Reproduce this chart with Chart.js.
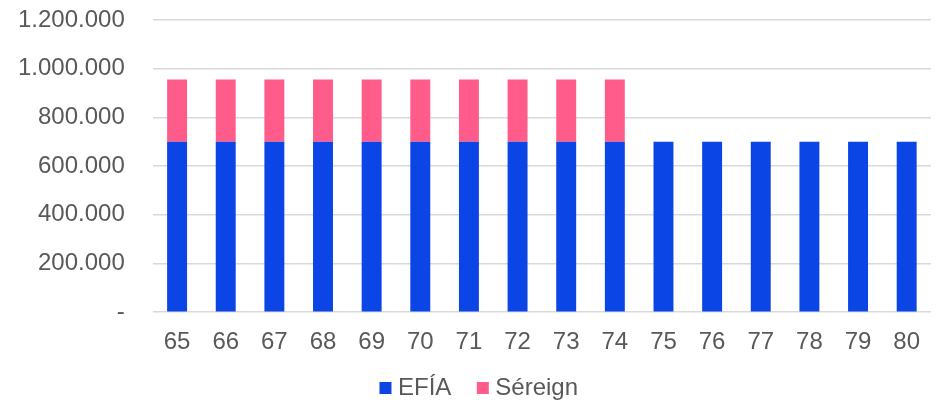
<!DOCTYPE html>
<html>
<head>
<meta charset="utf-8">
<script src="https://cdn.jsdelivr.net/npm/chart.js@4/dist/chart.umd.min.js"></script>
<style>
  html, body { margin: 0; padding: 0; background: #fff; }
  #wrap { width: 937px; height: 406px; }
</style>
</head>
<body>
<div id="wrap"><canvas id="chart" width="937" height="406"></canvas></div>
<script>
// --- Datos ---
const ages = ['65','66','67','68','69','70','71','72','73','74','75','76','77','78','79','80'];
const efia = [700000,700000,700000,700000,700000,700000,700000,700000,700000,700000,700000,700000,700000,700000,700000,700000];
const sereign = [256000,256000,256000,256000,256000,256000,256000,256000,256000,256000,0,0,0,0,0,0];
const yTicks = [0,200000,400000,600000,800000,1000000,1200000];

// formato con puntos de miles, cero como guion
function fmt(v) {
    if (v === 0) return '-';
    return String(v).replace(/\B(?=(\d{3})+(?!\d))/g, '.');
}

const textColor = '#595959';
const font = { family: 'Liberation Sans, Arial, sans-serif', size: 24 };

// Coloca la leyenda como en el original (un poco a la derecha y más arriba)
const legendPlace = {
    id: 'legendPlace',
    afterLayout(chart) {
        const l = chart.legend;
        const h = l.bottom - l.top;
        l.left += 21;
        l.right += 21;
        l.top = 345;
        l.bottom = 345 + h;
    }
};

new Chart(document.getElementById('chart'), {
    type: 'bar',
    data: {
        labels: ages,
        datasets: [
            { label: 'EFÍA', data: efia, backgroundColor: '#0b45e5', barPercentage: 0.41, categoryPercentage: 1 },
            { label: 'Séreign', data: sereign, backgroundColor: '#ff5c8b', barPercentage: 0.41, categoryPercentage: 1 }
        ]
    },
    options: {
        responsive: false,
        animation: false,
        layout: { padding: { top: 20, right: 6, left: -10, bottom: -24 } },
        scales: {
            x: {
                stacked: true,
                grid: { display: false },
                border: { display: false },
                ticks: { color: textColor, font: font, padding: 8, maxRotation: 0 }
            },
            y: {
                stacked: true,
                min: 0,
                max: 1200000,
                afterBuildTicks: axis => { axis.ticks = yTicks.map(v => ({ value: v })); },
                afterFit: s => { s.paddingTop = 0; s.paddingBottom = 0; },
                grid: { color: '#d9d9d9', lineWidth: 1.5, drawTicks: false },
                border: { display: false },
                ticks: { color: textColor, font: font, padding: 28, callback: v => fmt(v) }
            }
        },
        plugins: {
            legend: {
                position: 'bottom',
                labels: {
                    color: textColor, font: font, usePointStyle: true, pointStyle: 'rect',
                    boxWidth: 1, boxHeight: 12, padding: 31
                }
            },
            tooltip: { enabled: false }
        }
    },
    plugins: [legendPlace]
});
</script>
</body>
</html>
